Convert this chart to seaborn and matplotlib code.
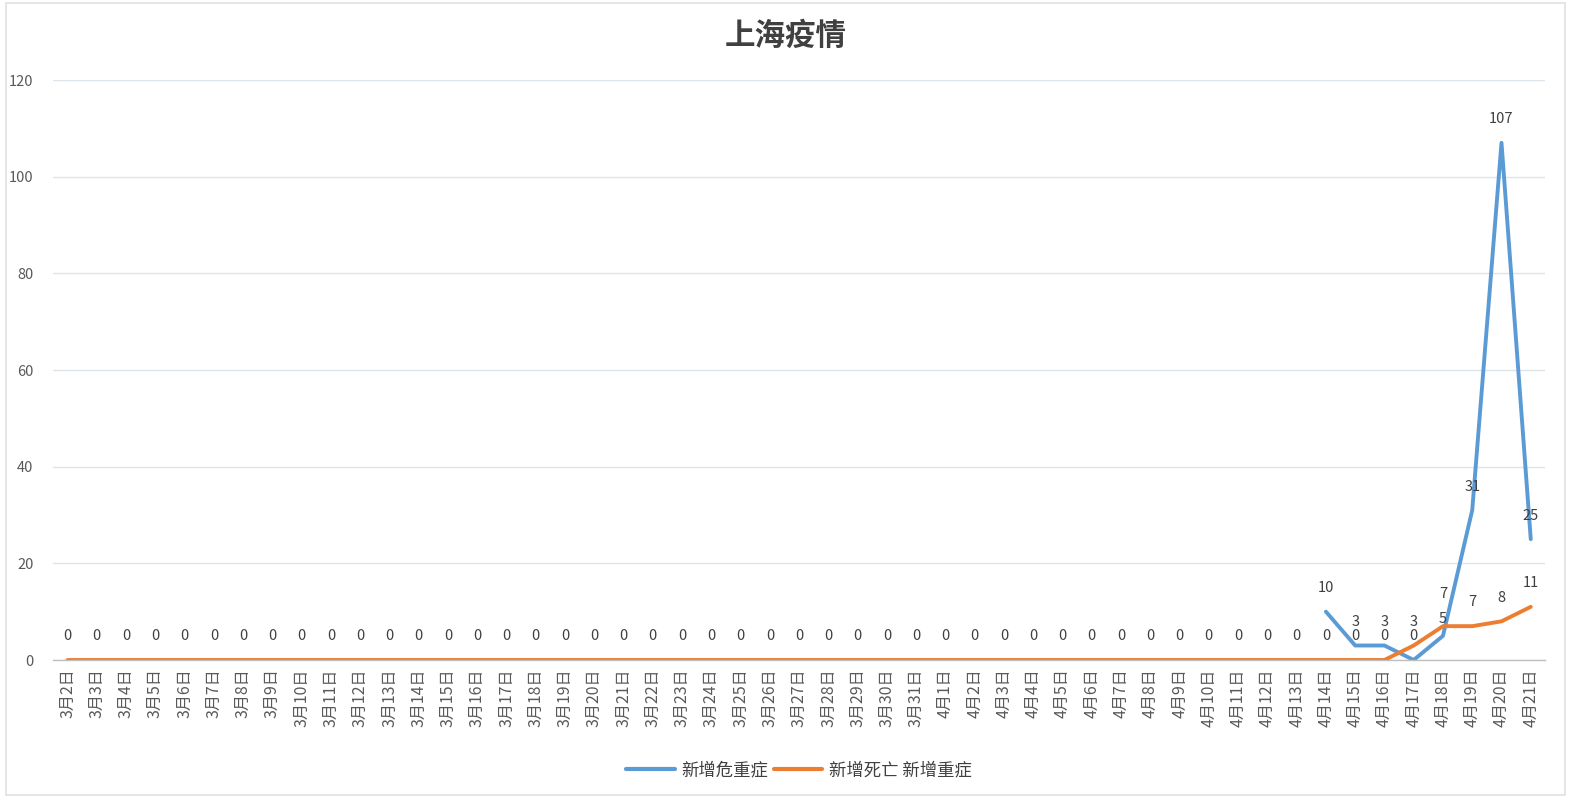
import numpy as np
import pandas as pd
import matplotlib
matplotlib.use("Agg")
import matplotlib.pyplot as plt
import seaborn as sns

# ---- data ----
dates = [f"3月{d}日" for d in range(2, 32)] + [f"4月{d}日" for d in range(1, 22)]
critical = [np.nan] * 43 + [10, 3, 3, 0, 5, 31, 107, 25]          # 新增危重症
deaths = [0] * 46 + [3, 7, 7, 8, 11]                                # 新增死亡 新增重症
series_names = ["新增危重症", "新增死亡 新增重症"]
colors = ["#5B9BD5", "#ED7D31"]
title = "上海疫情"
yticks = [0, 20, 40, 60, 80, 100, 120]

sns.set_theme(style="white")
plt.rcParams["font.family"] = ["Noto Sans CJK SC", "DejaVu Sans"]

df = pd.DataFrame({
    "idx": list(range(len(dates))) * 2,
    "value": critical + deaths,
    "series": [series_names[0]] * len(dates) + [series_names[1]] * len(dates),
})

fig = plt.figure(figsize=(15.71, 8.0), dpi=100)
ax = fig.add_axes([0.0337, 0.175, 0.95, 0.725])

sns.lineplot(data=df, x="idx", y="value", hue="series", palette=colors,
             linewidth=2.8, ax=ax, legend=True, sort=False)

# data labels
txtc = "#404040"
for k, vals in enumerate((critical, deaths)):
    for i, v in enumerate(vals):
        if v is None or (isinstance(v, float) and np.isnan(v)):
            continue
        dy = 12
        # the two labels at 4月18日 nearly coincide; nudge them apart slightly
        if i == 46 + 1:
            dy = 7 if k == 0 else 18
        ax.annotate(f"{v:g}", (i, v), xytext=(0, dy), textcoords="offset points",
                    ha="center", va="bottom", fontsize=10.5, color=txtc)

ax.set_xlim(-0.5, len(dates) - 0.5)
ax.set_ylim(0, 120)
ax.set_yticks(yticks)
ax.set_yticklabels([str(t) for t in yticks], fontsize=10.5, color="#595959")
ax.set_xticks(range(len(dates)))
ax.set_xticklabels(dates, rotation=90, fontsize=11.5, color="#595959")
ax.set_xticks(np.arange(-0.5, len(dates), 1), minor=True)
ax.tick_params(axis="x", which="major", length=0, pad=6)
ax.tick_params(axis="x", which="minor", length=6, color="#BFBFBF", width=0.8)
ax.tick_params(axis="y", length=0, pad=14)
ax.set_xlabel("")
ax.set_ylabel("")

ax.grid(axis="y", color="#DDE4EA", linewidth=1)
ax.grid(axis="x", visible=False)
for s in ["top", "right", "left"]:
    ax.spines[s].set_visible(False)
ax.spines["bottom"].set_color("#BFBFBF")
ax.spines["bottom"].set_linewidth(1)

fig.suptitle(title, y=0.975, fontsize=22, color="#404040", fontweight="bold")

handles, labels = ax.get_legend_handles_labels()
for h in handles:
    h.set_linewidth(3)
ax.legend(handles, labels, loc="center", bbox_to_anchor=(0.5, -0.19),
          ncol=2, frameon=False, fontsize=12.5, handlelength=2.8,
          columnspacing=0.3, handletextpad=0.4, labelcolor="#404040")

# light outer border
fig.patches.append(plt.Rectangle((0.004, 0.006), 0.992, 0.99, transform=fig.transFigure,
                                 fill=False, edgecolor="#E0E0E0", linewidth=1.2))

fig.savefig("out.png", dpi=100)
